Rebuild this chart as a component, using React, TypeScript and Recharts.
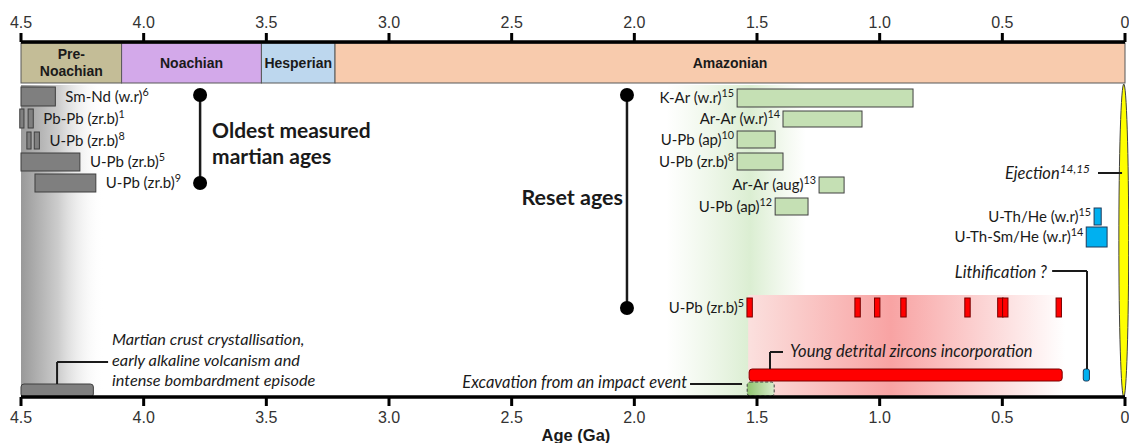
import React from "react";
import {
  ComposedChart,
  Line,
  XAxis,
  YAxis,
  ReferenceArea,
  ReferenceLine,
  ReferenceDot,
} from "recharts";

// ---- data (ages in Ga) ----
const AGE_TICKS = [4.5, 4, 3.5, 3, 2.5, 2, 1.5, 1, 0.5, 0];

const periodNames = ["Pre-Noachian", "Noachian", "Hesperian", "Amazonian"];
const periodStart = [4.5, 4.09, 3.52, 3.22];
const periodEnd = [4.09, 3.52, 3.22, 0];

const oldestLabels = ["Sm-Nd (w.r)", "Pb-Pb (zr.b)", "U-Pb (zr.b)", "U-Pb (zr.b)", "U-Pb (zr.b)"];
const oldestRefs = ["6", "1", "8", "5", "9"];
const oldestRanges = [
  [[4.5, 4.36]],
  [[4.505, 4.488], [4.471, 4.45]],
  [[4.476, 4.459], [4.446, 4.425]],
  [[4.5, 4.26]],
  [[4.443, 4.195]],
];
const oldestGroupAge = 3.77;

const resetLabels = ["K-Ar (w.r)", "Ar-Ar (w.r)", "U-Pb (ap)", "U-Pb (zr.b)", "Ar-Ar (aug)", "U-Pb (ap)"];
const resetRefs = ["15", "14", "10", "8", "13", "12"];
const resetRanges = [
  [1.581, 0.864],
  [1.394, 1.072],
  [1.581, 1.426],
  [1.581, 1.394],
  [1.247, 1.145],
  [1.426, 1.292],
];
const resetGroupAge = 2.03;

const heLabels = ["U-Th/He (w.r)", "U-Th-Sm/He (w.r)"];
const heRefs = ["15", "14"];
const heRanges = [
  [0.126, 0.097],
  [0.158, 0.073],
];

const zirconLabel = "U-Pb (zr.b)";
const zirconRef = "5";
const zirconAges = [1.53, 1.09, 1.01, 0.903, 0.642, 0.508, 0.488, 0.27];

const crustEpisode = [4.5, 4.205];
const impactExcavation = [1.54, 1.43];
const detritalIncorporation = [1.532, 0.256];
const lithification = [0.17, 0.145];
const ejectionAge = 0.005;

// ---- layout (vertical lanes, px below the top axis) ----
const W = 1129;
const H = 443;
const LANE_MAX = 355;
const PERIOD_LANE = [1, 41];
const OLDEST_LANES = [[45, 64], [67, 86], [90, 107], [111, 129], [132, 150]];
const RESET_LANES = [[47, 65], [69, 85], [89, 106], [111, 128], [135, 151], [156, 173]];
const HE_LANES = [[166, 183], [185, 205]];
const ZIRCON_LANE = [256, 275];
const DETRITAL_LANE = [327, 339];
const EXCAV_LANE = [340, 354];
const CRUST_LANE = [342, 355];
const ZIRCON_HALF = 0.011;

// period boundaries on the top edge, used as the chart's base series
const boundaryRows = [...periodStart, 0].map((age) => ({ age, lane: 0 }));

const FONT = "Lato, 'Noto Sans', sans-serif";
const AXIS_FONT = "'Liberation Sans', Arial, sans-serif";
const PERIOD_COLORS = ["#c4bd97", "#d3a9ea", "#bdd7ee", "#f8cbad"];
const INK = "#1a1a1a";

const Note = ({ x, y, text, sup, anchor = "start", size = 15, bold = false, italic = false, family = FONT }) => (
  <text
    x={x}
    y={y}
    textAnchor={anchor}
    fontFamily={family}
    fontSize={size}
    fontWeight={bold ? 700 : 400}
    fontStyle={italic ? "italic" : "normal"}
    fill={INK}
  >
    {text}
    {sup ? (
      <tspan dy={-size * 0.38} fontSize={size * 0.72}>
        {sup}
      </tspan>
    ) : null}
  </text>
);

const box = (o) => (p) => {
  const { x, y, width, height } = p;
  const ty = y + height / 2 + 5;
  return (
    <g>
      <rect
        x={x}
        y={y}
        width={width}
        height={height}
        rx={o.radius || 0}
        fill={o.fill}
        stroke={o.stroke}
        strokeWidth={o.sw ?? 1}
        strokeDasharray={o.dash}
      />
      {o.text && o.side === "right" ? (
        <Note x={x + width + 10} y={ty} text={o.text} sup={o.sup} />
      ) : null}
      {o.text && o.side === "left" ? (
        <Note x={x - 3} y={ty} text={o.text} sup={o.sup} anchor="end" />
      ) : null}
    </g>
  );
};

const periodShape = (name, color) => (p) => {
  const { x, y, width, height } = p;
  const cx = x + width / 2;
  const parts = name === "Pre-Noachian" ? ["Pre-", "Noachian"] : [name];
  return (
    <g>
      <rect x={x} y={y} width={width} height={height} fill={color} stroke="#595959" strokeWidth={1} />
      {parts.map((t, i) => (
        <text
          key={t}
          x={cx}
          y={parts.length === 1 ? y + height / 2 + 5 : y + 16 + i * 17}
          textAnchor="middle"
          fontFamily={AXIS_FONT}
          fontWeight={700}
          fontSize={14}
          fill={INK}
        >
          {t}
        </text>
      ))}
    </g>
  );
};

const lensShape = (p) => {
  const { x, y, width, height } = p;
  return (
    <ellipse
      cx={x + width / 2}
      cy={y + height / 2}
      rx={width / 2}
      ry={height / 2}
      fill="#ffff00"
      stroke="#404040"
      strokeWidth={1}
    />
  );
};

const textAt = (age, lane, props) => (
  <ReferenceDot
    key={`t-${age}-${lane}`}
    x={age}
    y={lane}
    r={0}
    ifOverflow="visible"
    shape={(p) => <Note x={p.cx} y={p.cy} {...props} />}
  />
);

const seg = (a1, l1, a2, l2, w = 2) => (
  <ReferenceLine
    key={`s-${a1}-${l1}-${a2}-${l2}`}
    segment={[
      { x: a1, y: l1 },
      { x: a2, y: l2 },
    ]}
    stroke={INK}
    strokeWidth={w}
    ifOverflow="visible"
  />
);

const dot = (age, lane) => (
  <ReferenceDot key={`d-${age}-${lane}`} x={age} y={lane} r={7} fill="#000" stroke="none" ifOverflow="visible" />
);

const area = (key, a1, a2, lane, shape) => (
  <ReferenceArea key={key} x1={a1} x2={a2} y1={lane[0]} y2={lane[1]} ifOverflow="visible" shape={shape} />
);

const fmt = (v) => (v === 0 ? "0" : v.toFixed(1));

const axisCommon = {
  type: "number",
  dataKey: "age",
  domain: [0, 4.5],
  allowDataOverflow: true,
  reversed: true,
  ticks: AGE_TICKS,
  interval: 0,
  tickFormatter: fmt,
  axisLine: { stroke: "#000", strokeWidth: 3.5 },
  tickLine: { stroke: "#000", strokeWidth: 3 },
  tickSize: 9,
  tick: { fill: "#333", fontSize: 16, fontFamily: AXIS_FONT },
  height: 30,
};

export default function App() {
  return (
    <div style={{ position: "absolute", left: 0, top: 0, background: "#fff" }}>
      <ComposedChart
        width={W}
        height={H}
        data={boundaryRows}
        margin={{ top: 12, right: 4, bottom: 16, left: 21 }}
      >
        <defs>
          <linearGradient id="grayFade" x1="0" y1="0" x2="1" y2="0">
            <stop offset="0" stopColor="#999999" />
            <stop offset="0.45" stopColor="#cdcdcd" />
            <stop offset="1" stopColor="#ffffff" stopOpacity="0" />
          </linearGradient>
          <linearGradient id="greenGlow" x1="0" y1="0" x2="1" y2="0">
            <stop offset="0" stopColor="#e2f0d9" stopOpacity="0" />
            <stop offset="0.6" stopColor="#dbeed2" stopOpacity="1" />
            <stop offset="1" stopColor="#e2f0d9" stopOpacity="0" />
          </linearGradient>
          <linearGradient id="redGlow" x1="0" y1="0" x2="1" y2="0">
            <stop offset="0" stopColor="#fbe0de" />
            <stop offset="0.45" stopColor="#f8a3a3" />
            <stop offset="1" stopColor="#ffffff" />
          </linearGradient>
          <linearGradient id="excavFill" x1="0" y1="0" x2="1" y2="0">
            <stop offset="0" stopColor="#8fc46f" />
            <stop offset="1" stopColor="#d8ebcc" />
          </linearGradient>
        </defs>

        <XAxis xAxisId="top" orientation="top" tickMargin={5} {...axisCommon} />
        <XAxis xAxisId={0} orientation="bottom" tickMargin={6} {...axisCommon} />
        <YAxis hide type="number" dataKey="lane" domain={[0, LANE_MAX]} allowDataOverflow reversed />
        <Line
          dataKey="lane"
          xAxisId={0}
          stroke="none"
          dot={false}
          activeDot={false}
          isAnimationActive={false}
        />

        {/* background glows */}
        {area("bg-gray", 4.5, 4.16, [43, LANE_MAX], (p) => (
          <rect x={p.x} y={p.y} width={p.width} height={p.height} fill="url(#grayFade)" />
        ))}
        {area("bg-green", 1.87, 1.3, [43, LANE_MAX], (p) => (
          <rect x={p.x} y={p.y} width={p.width} height={p.height} fill="url(#greenGlow)" />
        ))}
        {area("bg-red", 1.536, 0.244, [253, LANE_MAX], (p) => (
          <rect x={p.x} y={p.y} width={p.width} height={p.height} fill="url(#redGlow)" />
        ))}

        {/* geological periods */}
        {periodNames.map((n, i) =>
          area(`p-${n}`, periodStart[i], periodEnd[i], PERIOD_LANE, periodShape(n, PERIOD_COLORS[i]))
        )}

        {/* oldest measured ages */}
        {oldestRanges.map((segs, r) =>
          segs.map((s, k) =>
            area(
              `o-${r}-${k}`,
              s[0],
              s[1],
              OLDEST_LANES[r],
              box({
                fill: "#7f7f7f",
                stroke: "#3f3f3f",
                side: "right",
                text: k === segs.length - 1 ? oldestLabels[r] : null,
                sup: oldestRefs[r],
              })
            )
          )
        )}

        {/* reset ages */}
        {resetRanges.map((s, r) =>
          area(
            `r-${r}`,
            s[0],
            s[1],
            RESET_LANES[r],
            box({ fill: "#c5e0b4", stroke: "#404040", side: "left", text: resetLabels[r], sup: resetRefs[r] })
          )
        )}

        {/* (U-Th)/He */}
        {heRanges.map((s, r) =>
          area(
            `h-${r}`,
            s[0],
            s[1],
            HE_LANES[r],
            box({ fill: "#00b0f0", stroke: "#1f3b5a", side: "left", text: heLabels[r], sup: heRefs[r] })
          )
        )}

        {/* detrital zircons */}
        {zirconAges.map((a, i) =>
          area(
            `z-${i}`,
            a + ZIRCON_HALF,
            a - ZIRCON_HALF,
            ZIRCON_LANE,
            box({
              fill: "#ff0000",
              stroke: "#7a0000",
              side: "left",
              text: i === 0 ? zirconLabel : null,
              sup: zirconRef,
            })
          )
        )}

        {/* events along the bottom */}
        {area("crust", crustEpisode[0], crustEpisode[1], CRUST_LANE, box({ fill: "#7f7f7f", stroke: "#3f3f3f", radius: 3 }))}
        {area(
          "excav",
          impactExcavation[0],
          impactExcavation[1],
          EXCAV_LANE,
          box({ fill: "url(#excavFill)", stroke: "#404040", radius: 3, dash: "3 2" })
        )}
        {area(
          "detrital",
          detritalIncorporation[0],
          detritalIncorporation[1],
          DETRITAL_LANE,
          box({ fill: "#ff0000", stroke: "#7a0000", radius: 3 })
        )}
        {area("lith", lithification[0], lithification[1], DETRITAL_LANE, box({ fill: "#00b0f0", stroke: "#1f3b5a", radius: 2 }))}
        {area("eject", ejectionAge + 0.02, ejectionAge - 0.02, [42, LANE_MAX], lensShape)}

        {/* group brackets */}
        {seg(oldestGroupAge, 53, oldestGroupAge, 141, 2.5)}
        {dot(oldestGroupAge, 53)}
        {dot(oldestGroupAge, 141)}
        {seg(resetGroupAge, 53, resetGroupAge, 266, 2.5)}
        {dot(resetGroupAge, 53)}
        {dot(resetGroupAge, 266)}

        {/* connectors */}
        {seg(4.353, 320, 4.145, 320)}
        {seg(4.353, 320, 4.353, 342)}
        {seg(1.447, 310, 1.394, 310)}
        {seg(1.447, 310, 1.447, 327)}
        {seg(1.773, 342, 1.561, 342)}
        {seg(0.297, 229, 0.155, 229)}
        {seg(0.155, 229, 0.155, 327)}
        {seg(0.11, 131, 0.012, 131)}

        {/* annotations */}
        {textAt(3.721, 96, { text: "Oldest measured", size: 21, bold: true })}
        {textAt(3.721, 122, { text: "martian ages", size: 21, bold: true })}
        {textAt(2.046, 163, { text: "Reset ages", size: 21.5, bold: true, anchor: "end" })}
        {textAt(4.129, 303, { text: "Martian crust crystallisation,", size: 16.3, italic: true })}
        {textAt(4.129, 323.5, { text: "early alkaline volcanism and", size: 16.3, italic: true })}
        {textAt(4.129, 344, { text: "intense bombardment episode", size: 16.3, italic: true })}
        {textAt(1.365, 315, { text: "Young detrital zircons incorporation", size: 16.5, italic: true })}
        {textAt(1.785, 346, { text: "Excavation from an impact event", size: 16.5, italic: true, anchor: "end" })}
        {textAt(0.318, 236, { text: "Lithification ?", size: 16.5, italic: true, anchor: "end" })}
        {textAt(0.143, 137, { text: "Ejection", sup: "14,15", size: 16.5, italic: true, anchor: "end" })}
        {textAt(2.238, 399, { text: "Age (Ga)", size: 16.5, bold: true, anchor: "middle", family: AXIS_FONT })}
      </ComposedChart>
    </div>
  );
}
